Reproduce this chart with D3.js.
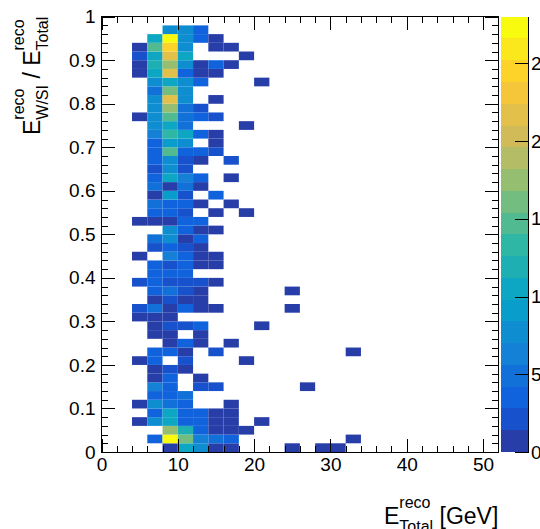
<!DOCTYPE html>
<html><head><meta charset="utf-8">
<script src="https://cdn.jsdelivr.net/npm/d3@7/dist/d3.min.js"></script>
<style>
body{margin:0;background:#fff}
svg{display:block}
text{font-family:"Liberation Sans",Arial,Helvetica,sans-serif;fill:#000}
</style></head><body>
<svg id="chart" width="540" height="529"></svg>
<script>
// ---------------- data ----------------
// x bins: E_Total^reco, 2 GeV wide (lower edges); y bins: E_W/Si / E_Total, 0.02 wide
// each column array holds counts for y bins 0.00,0.02,...,0.98 (50 values)
const xBinWidth = 2;
const yBinWidth = 0.02;
const n04 = [0,0,0,1,0,1,0,0,0,0, 1,0,0,0,0,1,2,0,0,2, 0,0,1,0,0,0,1,0,0,0, 0,0,0,0,0,0,0,0,1,0, 0,0,0,1,1,2,1,0,0,0];
const n06 = [0,3,0,8,3,8,3,6,1,1, 3,3,0,1,1,1,5,1,3,3, 3,3,0,2,5,0,1,3,5,1, 5,4,2,4,3,3,6,8,8,8, 8,5,8,10,12,10,15,10,0,0];
const n08 = [1,27,17,10,10,5,3,3,3,2, 0,3,1,1,2,1,1,2,5,2, 3,2,6,4,8,8,1,3,3,9, 1,10,8,8,15,9,13,10,15,17, 22,16,10,22,17,22,24,28,8,0];
const n10 = [10,16,12,3,3,3,5,0,0,1, 2,1,3,0,2,0,4,1,2,2, 3,3,3,2,1,3,3,2,3,2, 5,6,2,2,3,8,10,5,5,5, 8,8,8,3,8,10,8,8,8,0];
const n12 = [8,6,3,3,3,0,0,2,1,0, 0,0,1,1,3,0,1,1,1,2, 0,1,1,1,3,1,3,0,1,0, 1,3,0,1,3,0,3,0,3,2, 0,0,3,1,1,0,0,3,3,0];
const n14 = [1,5,1,1,1,0,0,2,0,0, 0,2,0,0,0,0,1,0,0,1, 0,1,1,0,0,1,0,1,0,3, 0,0,0,0,2,1,1,0,2,0, 1,0,0,1,3,0,1,1,0,0];
const n16 = [1,3,1,1,1,1,0,0,0,0, 0,0,1,0,0,0,0,0,0,0, 0,0,0,0,0,0,0,0,1,0, 0,1,0,2,0,0,0,0,0,0, 0,0,0,0,1,0,1,0,0,0];
const n18 = [0,0,1,0,0,0,0,0,0,0, 1,0,0,0,0,0,0,0,0,0, 0,0,0,0,0,0,0,1,0,0, 0,0,0,0,0,0,0,1,0,0, 0,0,0,0,0,1,0,0,0,0];
const n20 = [0,0,0,1,0,0,0,0,0,0, 0,0,0,0,1,0,0,0,0,0, 0,0,0,0,0,0,0,0,0,0, 0,0,0,0,0,0,0,0,0,0, 0,0,1,0,0,0,0,0,0,0];
const n24 = [1,0,0,0,0,0,0,0,0,0, 0,0,0,0,0,0,1,0,1,0, 0,0,0,0,0,0,0,0,0,0, 0,0,0,0,0,0,0,0,0,0, 0,0,0,0,0,0,0,0,0,0];
const n26 = [0,0,0,0,0,0,0,1,0,0, 0,0,0,0,0,0,0,0,0,0, 0,0,0,0,0,0,0,0,0,0, 0,0,0,0,0,0,0,0,0,0, 0,0,0,0,0,0,0,0,0,0];
const n28 = [1,0,0,0,0,0,0,0,0,0, 0,0,0,0,0,0,0,0,0,0, 0,0,0,0,0,0,0,0,0,0, 0,0,0,0,0,0,0,0,0,0, 0,0,0,0,0,0,0,0,0,0];
const n30 = [1,0,0,0,0,0,0,0,0,0, 0,0,0,0,0,0,0,0,0,0, 0,0,0,0,0,0,0,0,0,0, 0,0,0,0,0,0,0,0,0,0, 0,0,0,0,0,0,0,0,0,0];
const n32 = [0,1,0,0,0,0,0,0,0,0, 0,1,0,0,0,0,0,0,0,0, 0,0,0,0,0,0,0,0,0,0, 0,0,0,0,0,0,0,0,0,0, 0,0,0,0,0,0,0,0,0,0];
const columnEdges = [4, 6, 8, 10, 12, 14, 16, 18, 20, 24, 26, 28, 30, 32];
const columnCounts = [n04, n06, n08, n10, n12, n14, n16, n18, n20, n24, n26, n28, n30, n32];
const xDomain = [0, 52];
const yDomain = [0, 1];
const xMajorTicks = [0, 10, 20, 30, 40, 50];
const zTicks = [0, 5, 10, 15, 20, 25];
const nContours = 20;
// ROOT kBird palette
const birdStops = [0.0, 0.125, 0.25, 0.375, 0.5, 0.625, 0.75, 0.875, 1.0];
const birdR = [0.2082, 0.0592, 0.0780, 0.0232, 0.1802, 0.5301, 0.8186, 0.9956, 0.9764];
const birdG = [0.1664, 0.3599, 0.5041, 0.6419, 0.7178, 0.7492, 0.7328, 0.7862, 0.9832];
const birdB = [0.5293, 0.8684, 0.8385, 0.7914, 0.6425, 0.4662, 0.3499, 0.1968, 0.0539];

// ---------------- build ----------------
const cells = [];
columnEdges.forEach((e, ci) => {
  columnCounts[ci].forEach((n, j) => {
    if (n > 0) cells.push({e: e, r: +(j * yBinWidth).toFixed(2), n: n});
  });
});
const zMax = d3.max(cells, d => d.n);
const dz = zMax / nContours;

const bird = d3.scaleLinear().domain(birdStops)
  .range(birdStops.map((s, i) => d3.rgb(birdR[i]*255, birdG[i]*255, birdB[i]*255)))
  .interpolate(d3.interpolateRgb);
const bandColor = i => bird(Math.min(254, Math.floor((i + 0.99) * 255 / nContours)) / 254);
const cellBand = n => Math.min(nContours - 1, Math.floor(n / dz));

const svg = d3.select('#chart');
const X = d3.scaleLinear().domain(xDomain).range([101.5, 498.3]);
const Y = d3.scaleLinear().domain(yDomain).range([452, 16.7]);
const Z = d3.scaleLinear().domain([0, zMax]).range([452, 16.7]);

// cells
svg.append('g').selectAll('rect').data(cells).join('rect')
  .attr('x', d => X(d.e))
  .attr('width', d => X(d.e + xBinWidth) - X(d.e))
  .attr('y', d => Y(d.r + yBinWidth))
  .attr('height', d => Y(d.r) - Y(d.r + yBinWidth))
  .attr('fill', d => bandColor(cellBand(d.n)));

// axes
const LABEL_FS = 19;
function styleAxis(g) {
  g.select('.domain').remove();
  g.selectAll('line').attr('stroke', '#000').attr('shape-rendering', 'crispEdges');
  g.selectAll('text').attr('font-size', LABEL_FS).attr('font-family', '"Liberation Sans",Arial,sans-serif').attr('fill', '#000');
}
const yB = Y(yDomain[0]), yT = Y(yDomain[1]);
const xL = X(xDomain[0]), xR = X(xDomain[1]);
const fmtY = d => String(+d.toFixed(1));

svg.append('g').attr('transform', `translate(0,${yB})`)
  .call(d3.axisBottom(X).tickValues(xMajorTicks).tickSizeInner(-13).tickSizeOuter(0).tickPadding(6).tickFormat(d3.format('d')))
  .call(styleAxis);
svg.append('g').attr('transform', `translate(0,${yB})`)
  .call(d3.axisBottom(X).tickValues(X.ticks(26)).tickSizeInner(-6.5).tickSizeOuter(0).tickFormat(''))
  .call(styleAxis);
svg.append('g').attr('transform', `translate(0,${yT})`)
  .call(d3.axisTop(X).tickValues(xMajorTicks).tickSizeInner(-13).tickSizeOuter(0).tickFormat(''))
  .call(styleAxis);
svg.append('g').attr('transform', `translate(0,${yT})`)
  .call(d3.axisTop(X).tickValues(X.ticks(26)).tickSizeInner(-6.5).tickSizeOuter(0).tickFormat(''))
  .call(styleAxis);

svg.append('g').attr('transform', `translate(${xL},0)`)
  .call(d3.axisLeft(Y).ticks(10).tickSizeInner(-13).tickSizeOuter(0).tickPadding(6).tickFormat(fmtY))
  .call(styleAxis);
svg.append('g').attr('transform', `translate(${xL},0)`)
  .call(d3.axisLeft(Y).tickValues(Y.ticks(50)).tickSizeInner(-6.5).tickSizeOuter(0).tickFormat(''))
  .call(styleAxis);
svg.append('g').attr('transform', `translate(${xR},0)`)
  .call(d3.axisRight(Y).ticks(10).tickSizeInner(-13).tickSizeOuter(0).tickFormat(''))
  .call(styleAxis);
svg.append('g').attr('transform', `translate(${xR},0)`)
  .call(d3.axisRight(Y).tickValues(Y.ticks(50)).tickSizeInner(-6.5).tickSizeOuter(0).tickFormat(''))
  .call(styleAxis);

// frame
svg.append('rect').attr('x', xL).attr('y', yT).attr('width', xR - xL).attr('height', yB - yT)
  .attr('fill', 'none').attr('stroke', '#000').attr('stroke-width', 1).attr('shape-rendering', 'crispEdges');

// color bar
const cbX0 = 501, cbX1 = 528;
svg.append('g').selectAll('rect').data(d3.range(nContours)).join('rect')
  .attr('x', cbX0).attr('width', cbX1 - cbX0)
  .attr('y', i => Z((i + 1) * dz)).attr('height', i => Z(i * dz) - Z((i + 1) * dz))
  .attr('fill', i => bandColor(i)).attr('shape-rendering', 'crispEdges');
const gz = svg.append('g').attr('transform', `translate(${cbX1},0)`)
  .call(d3.axisRight(Z).tickValues(zTicks).tickSizeInner(-13).tickSizeOuter(0).tickPadding(3));
gz.select('.domain').attr('stroke', '#000').attr('shape-rendering', 'crispEdges');
gz.selectAll('line').attr('stroke', '#000').attr('shape-rendering', 'crispEdges');
gz.selectAll('text').attr('font-size', LABEL_FS).attr('font-family', '"Liberation Sans",Arial,sans-serif').attr('fill', '#000');

// titles (TLatex-like)
const TF = 23, SF = 16, RISE = 16, DROP = 7.5;
function latex(g, parts) {
  let x = 0;
  parts.forEach(p => {
    const t = g.append('text').attr('x', x).attr('y', 0).attr('font-size', TF).text(p.base);
    x += t.node().getComputedTextLength();
    if (p.sup || p.sub) {
      let w = 0;
      if (p.sup) { const s = g.append('text').attr('x', x).attr('y', -RISE).attr('font-size', SF).text(p.sup); w = Math.max(w, s.node().getComputedTextLength()); }
      if (p.sub) { const s = g.append('text').attr('x', x).attr('y', DROP).attr('font-size', SF).text(p.sub); w = Math.max(w, s.node().getComputedTextLength()); }
      x += w;
    }
  });
  return x;
}
const gxt = svg.append('g');
const wx = latex(gxt, [{base: 'E', sup: 'reco', sub: 'Total'}, {base: '\u00a0[GeV]'}]);
gxt.attr('transform', `translate(${xR - wx},524)`);

const gyt = svg.append('g');
const wy = latex(gyt, [{base: 'E', sup: 'reco', sub: 'W/SI'}, {base: '\u00a0/\u00a0'}, {base: 'E', sup: 'reco', sub: 'Total'}]);
gyt.attr('transform', `translate(40,${yT + wy}) rotate(-90)`);
</script>
</body></html>
